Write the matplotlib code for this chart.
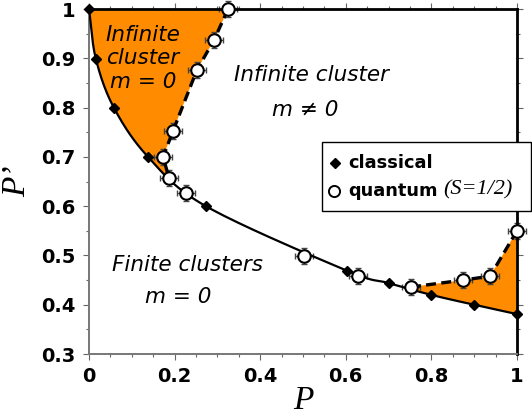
import numpy as np
import matplotlib
matplotlib.use('Agg')
import matplotlib.pyplot as plt
from matplotlib.lines import Line2D
from matplotlib.patches import Rectangle
from matplotlib.ticker import MultipleLocator, FuncFormatter

# classical critical line
p_classical = [0.0, 0.016, 0.058, 0.138, 0.273, 0.603, 0.70, 0.80, 0.90, 1.0]
pp_classical = [1.0, 0.899, 0.80, 0.70, 0.60, 0.469, 0.444, 0.42, 0.40, 0.381]

# quantum (S=1/2) points
p_quantum = [0.325, 0.292, 0.252, 0.196, 0.173, 0.187, 0.227, 0.502, 0.628, 0.752, 0.874, 0.937, 1.0]
pp_quantum = [1.0, 0.937, 0.876, 0.752, 0.70, 0.657, 0.627, 0.499, 0.458, 0.436, 0.45, 0.458, 0.55]
p_err = 0.021
pp_err = 0.016

upper_idx = [0, 1, 2, 3, 4, 5]
lower_idx = [9, 10, 11, 12]

orange = '#FF8C00'


def smooth(x, y, n=20):
    # catmull-rom curve through the points (like a smoothed excel line)
    x = np.asarray(x, float)
    y = np.asarray(y, float)
    pts = np.column_stack([x, y])
    pts = np.vstack([pts[0] - (pts[1] - pts[0]), pts, pts[-1] + (pts[-1] - pts[-2])])
    out = []
    t = np.linspace(0, 1, n, endpoint=False)[:, None]
    for i in range(1, len(pts) - 2):
        p0, p1, p2, p3 = pts[i - 1], pts[i], pts[i + 1], pts[i + 2]
        seg = 0.5 * ((2 * p1) + (-p0 + p2) * t + (2 * p0 - 5 * p1 + 4 * p2 - p3) * t ** 2
                     + (-p0 + 3 * p1 - 3 * p2 + p3) * t ** 3)
        out.append(seg)
    out.append(pts[-2][None, :])
    out = np.vstack(out)
    return out[:, 0], out[:, 1]


cx, cy = smooth(p_classical, pp_classical)

qx = np.array(p_quantum)
qy = np.array(pp_quantum)
ux, uy = qx[upper_idx], qy[upper_idx]
lx, ly = qx[lower_idx], qy[lower_idx]

W, H = 532, 419
fig = plt.figure(figsize=(W / 100, H / 100), dpi=100)
ax = fig.add_axes([0.1673, 0.155, 0.8045, 0.8235])

# shaded regions
m = cy >= uy[-1]
poly_x = np.concatenate([cx[m], ux[::-1]])
poly_y = np.concatenate([cy[m], uy[::-1]])
ax.fill(poly_x, poly_y, color=orange, lw=0, zorder=1)

m2 = cx >= lx[0]
poly_x = np.concatenate([cx[m2], lx[::-1]])
poly_y = np.concatenate([cy[m2], ly[::-1]])
ax.fill(poly_x, poly_y, color=orange, lw=0, zorder=1)

ax.plot(cx, cy, color='black', lw=1.6, zorder=3)
ax.plot(ux, uy, color='black', lw=2.4, ls=(0, (3, 1.6)), zorder=3)
ax.plot(lx, ly, color='black', lw=2.4, ls=(0, (3, 1.6)), zorder=3)

ax.errorbar(qx, qy, xerr=p_err, yerr=pp_err, fmt='none', ecolor='#444444',
            elinewidth=1.0, capsize=2, capthick=1.0, zorder=2, clip_on=False)
ax.plot(p_classical, pp_classical, 'D', color='black', ms=5.5, zorder=4, clip_on=False)
ax.plot(qx, qy, 'o', mfc='white', mec='black', mew=1.5, ms=9, zorder=5, clip_on=False)

ax.set_xlim(0, 1)
ax.set_ylim(0.3, 1)
ax.xaxis.set_major_locator(MultipleLocator(0.2))
ax.xaxis.set_minor_locator(MultipleLocator(0.05))
ax.yaxis.set_major_locator(MultipleLocator(0.1))
ax.yaxis.set_minor_locator(MultipleLocator(0.05))
fmt = FuncFormatter(lambda v, pos: '%g' % round(v, 2))
ax.xaxis.set_major_formatter(fmt)
ax.yaxis.set_major_formatter(fmt)
ax.tick_params(which='both', direction='out', top=True, right=True, color='#666666',
               labelsize=14, width=0.8)
ax.tick_params(which='major', length=4)
ax.tick_params(which='minor', length=2)
for lab in ax.get_xticklabels() + ax.get_yticklabels():
    lab.set_fontweight('bold')
ax.tick_params(axis='x', pad=5)
ax.tick_params(axis='y', pad=6)

for s in ['left', 'bottom']:
    ax.spines[s].set_color('#777777')
    ax.spines[s].set_linewidth(1.4)
for s in ['top', 'right']:
    ax.spines[s].set_color('black')
    ax.spines[s].set_linewidth(2)

ax.set_xlabel('P', fontsize=24, family='Liberation Serif', style='italic', labelpad=0)
ax.set_ylabel('P\u2019', fontsize=24, family='Liberation Serif', style='italic', labelpad=6)

txt = dict(fontsize=15.5, style='italic', ha='center', va='center', zorder=6)
ax.text(0.126, 0.90, 'Infinite\ncluster\nm = 0', linespacing=1.2, **txt)
ax.text(0.519, 0.866, 'Infinite cluster', **txt)
ax.text(0.505, 0.795, 'm \u2260 0', **txt)
ax.text(0.231, 0.481, 'Finite clusters', **txt)
ax.text(0.208, 0.416, 'm = 0', **txt)

# legend box drawn by hand (mixed sans bold / serif italic label)
fx = lambda px: px / W
fy = lambda py: 1 - py / H
fig.add_artist(Rectangle((fx(322), fy(211)), fx(531) - fx(322), fy(142) - fy(211),
                         transform=fig.transFigure, facecolor='white', edgecolor='black',
                         lw=1.0, zorder=10))
fig.add_artist(Line2D([fx(335)], [fy(163)], transform=fig.transFigure, ls='none',
                      marker='D', color='black', ms=5, zorder=11))
fig.add_artist(Line2D([fx(334)], [fy(191)], transform=fig.transFigure, ls='none',
                      marker='o', mfc='white', mec='black', mew=1.4, ms=8, zorder=11))
fig.text(fx(348), fy(163), 'classical', fontsize=12.8, fontweight='bold',
         va='center', ha='left', zorder=12)
fig.text(fx(348), fy(191), 'quantum', fontsize=12.8, fontweight='bold',
         va='center', ha='left', zorder=12)
fig.text(fx(443), fy(190), '(S=1/2)', fontsize=16, family='Liberation Serif',
         style='italic', va='center', ha='left', zorder=12)

fig.savefig('out.png', dpi=100)
